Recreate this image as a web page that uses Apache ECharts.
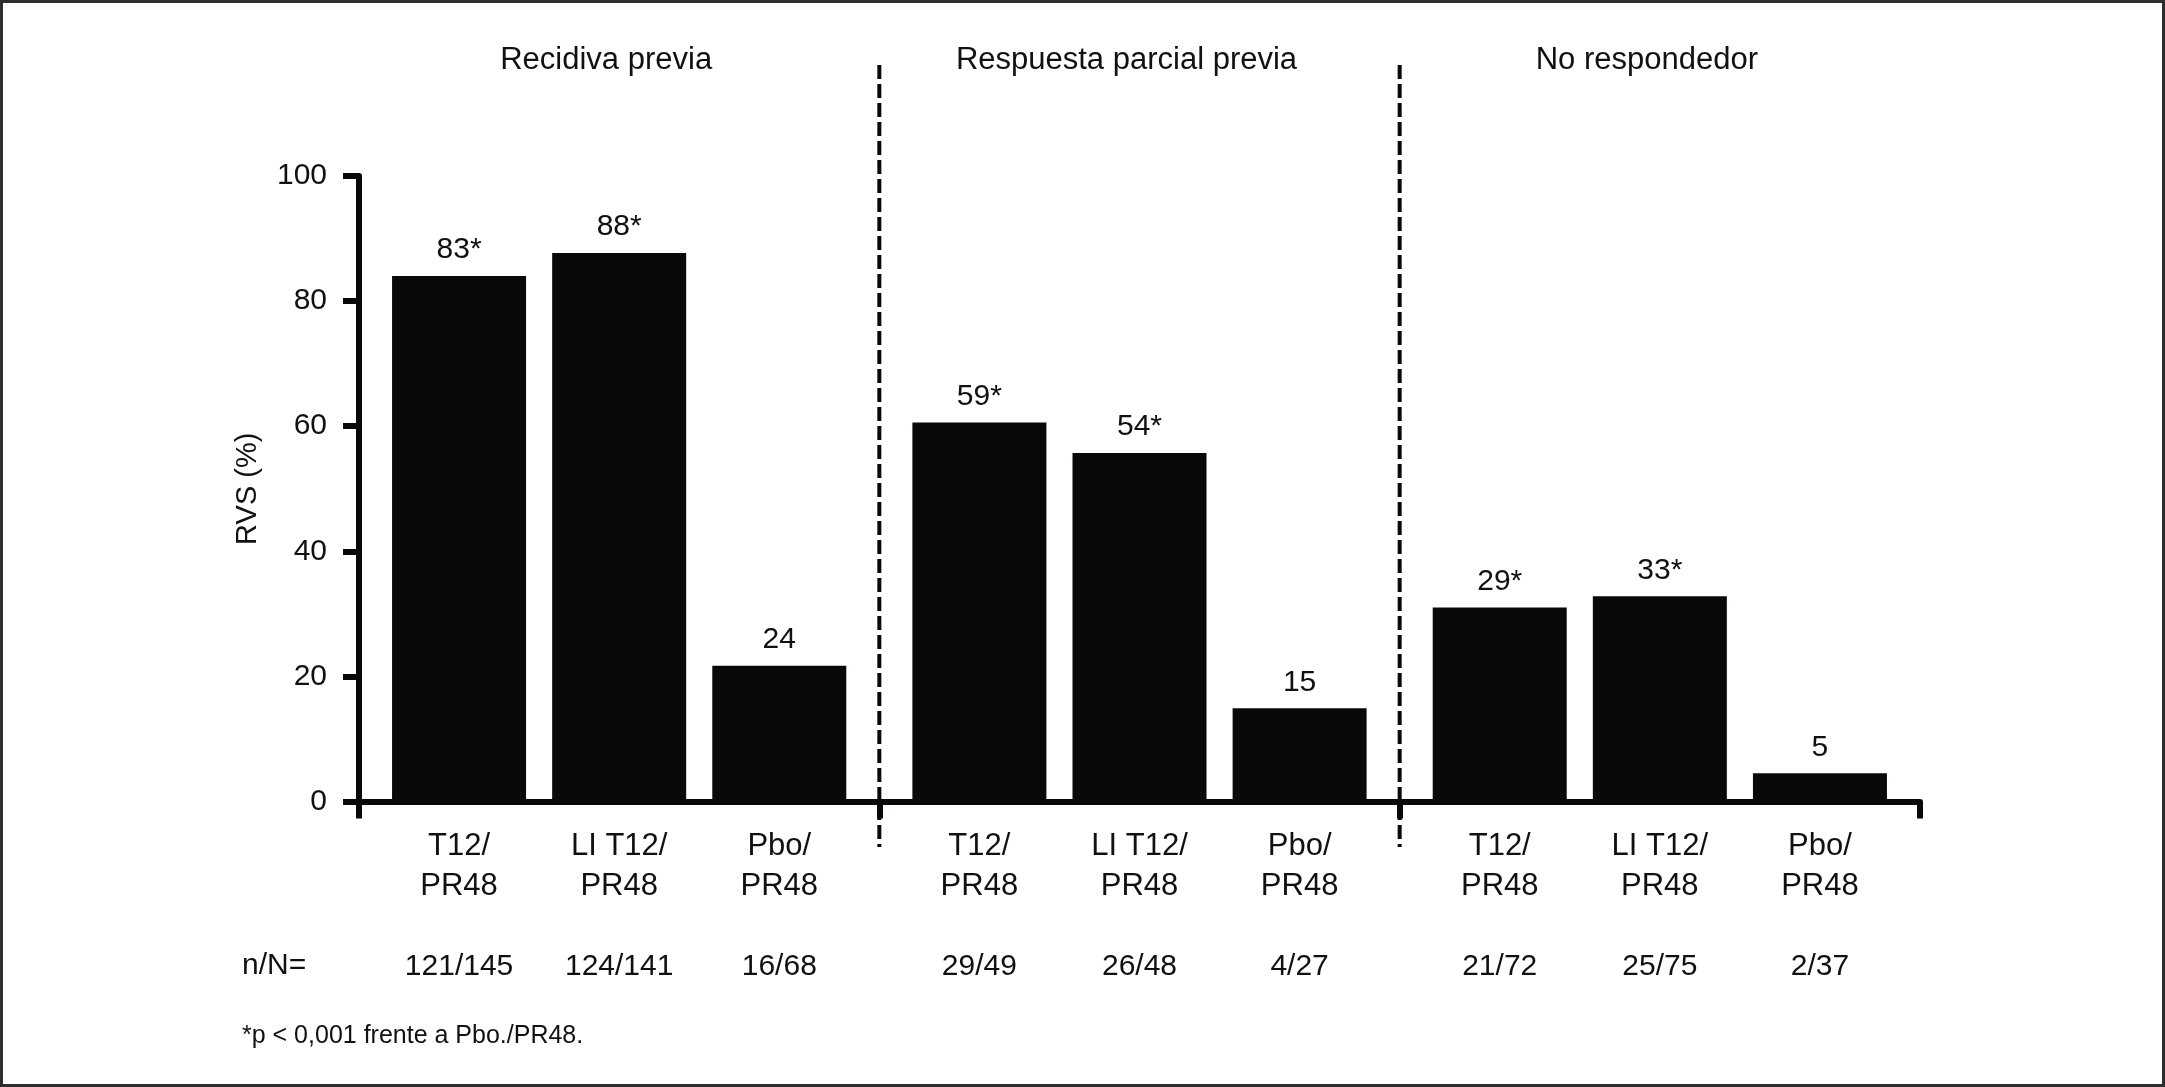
<!DOCTYPE html>
<html>
<head>
<meta charset="utf-8">
<script src="https://cdn.jsdelivr.net/npm/echarts@6/dist/echarts.min.js"></script>
<style>
html,body{margin:0;padding:0;background:#fff;}
#c{width:2165px;height:1087px;}
</style>
</head>
<body>
<div id="c"></div>
<script>
// ---- data ----
const groups = ['Recidiva previa', 'Respuesta parcial previa', 'No respondedor'];
const categories = ['T12/\nPR48', 'LI T12/\nPR48', 'Pbo/\nPR48'];
const rvsRecidiva = [84.0, 87.7, 21.7];
const rvsParcial = [60.6, 55.7, 14.9];
const rvsNoResp = [31.0, 32.8, 4.5];
const labelsRecidiva = ['83*', '88*', '24'];
const labelsParcial = ['59*', '54*', '15'];
const labelsNoResp = ['29*', '33*', '5'];
const nNRecidiva = ['121/145', '124/141', '16/68'];
const nNParcial = ['29/49', '26/48', '4/27'];
const nNNoResp = ['21/72', '25/75', '2/37'];
const yMin = 0, yMax = 100, yInterval = 20;
const yName = 'RVS (%)';
const nNTitle = 'n/N=';
const footnote = '*p < 0,001 frente a Pbo./PR48.';

const seriesValues = [rvsRecidiva, rvsParcial, rvsNoResp];
const seriesLabels = [labelsRecidiva, labelsParcial, labelsNoResp];
const seriesNN = [nNRecidiva, nNParcial, nNNoResp];

// ---- layout ----
const FONT = "'Liberation Sans Narrow','Arial Narrow','Liberation Sans',Arial,sans-serif";
const INK = '#0b080a';
const TXT = '#111';
const L = 359, W = 1561, T = 176, H = 625.5;
const GW = W / 3, PAD = 20;

const chart = echarts.init(document.getElementById('c'), null, {renderer: 'canvas'});

const grids = [{left: L, top: T, width: W, height: H}];
for (let i = 0; i < 3; i++) grids.push({left: L + i * GW + PAD, top: T, width: GW - 2 * PAD, height: H});

const xAxes = [
  {gridIndex: 0, type: 'category', data: groups, position: 'bottom',
   axisLine: {show: true, lineStyle: {color: INK, width: 6}},
   axisTick: {show: true, length: 17, lineStyle: {color: INK, width: 6}},
   axisLabel: {show: false}, z: 5},
  {gridIndex: 0, type: 'category', data: groups, position: 'top',
   axisLine: {show: false}, axisTick: {show: false},
   axisLabel: {show: true, margin: 96, fontFamily: FONT, fontSize: 31, lineHeight: 40, color: TXT, padding: [0, 26, 0, 0]}}
];
for (let i = 0; i < 3; i++) {
  xAxes.push({gridIndex: i + 1, type: 'category', data: categories, position: 'bottom',
    axisLine: {show: false}, axisTick: {show: false},
    axisLabel: {show: true, margin: 25, fontFamily: FONT, fontSize: 31, lineHeight: 40, color: TXT}});
}
for (let i = 0; i < 3; i++) {
  xAxes.push({gridIndex: i + 1, type: 'category', data: seriesNN[i], position: 'bottom', offset: 120,
    axisLine: {show: false}, axisTick: {show: false},
    axisLabel: {show: true, margin: 25, fontFamily: FONT, fontSize: 30, lineHeight: 40, color: TXT}});
}

const yAxes = [
  {gridIndex: 0, type: 'value', min: yMin, max: yMax, interval: yInterval,
   name: yName, nameLocation: 'middle', nameRotate: 90, nameGap: 97,
   nameTextStyle: {fontFamily: FONT, fontSize: 29, color: TXT},
   axisLine: {show: true, lineStyle: {color: INK, width: 6}},
   axisTick: {show: true, inside: false, length: 16, lineStyle: {color: INK, width: 6}},
   axisLabel: {margin: 32, fontFamily: FONT, fontSize: 30, color: TXT},
   splitLine: {show: false}, z: 5}
];
for (let i = 0; i < 3; i++) yAxes.push({gridIndex: i + 1, type: 'value', min: yMin, max: yMax, interval: yInterval, show: false});

const series = [];
for (let i = 0; i < 3; i++) {
  const labs = seriesLabels[i];
  series.push({type: 'bar', xAxisIndex: i + 2, yAxisIndex: i + 1, data: seriesValues[i],
    barWidth: 134, itemStyle: {color: INK},
    label: {show: true, position: 'top', distance: 6, fontFamily: FONT, fontSize: 30, lineHeight: 40, color: TXT,
      formatter: p => labs[p.dataIndex]}});
}

chart.setOption({
  animation: false,
  backgroundColor: '#fff',
  title: {text: footnote, left: 242, top: 1024, padding: 0, textStyle: {fontFamily: FONT, fontSize: 25, fontWeight: 'normal', color: TXT}},
  grid: grids,
  xAxis: xAxes,
  yAxis: yAxes,
  series: series
});

// separators derived from the group axis
const c0 = chart.convertToPixel({xAxisIndex: 0}, groups[0]);
const c1 = chart.convertToPixel({xAxisIndex: 0}, groups[1]);
const c2 = chart.convertToPixel({xAxisIndex: 0}, groups[2]);
const b1 = (c0 + c1) / 2, b2 = (c1 + c2) / 2;
const nNy = chart.convertToPixel({yAxisIndex: 0}, 0) + 164;

chart.setOption({
  graphic: [
    {type: 'rect', id: 'border', shape: {x: 1.5, y: 1.5, width: 2162, height: 1084}, style: {fill: null, stroke: '#2e2e2e', lineWidth: 3}, silent: true},
    {type: 'line', id: 'sep1', shape: {x1: b1, y1: 65, x2: b1, y2: 847}, style: {stroke: INK, lineWidth: 4, lineDash: [14, 5]}, z: 10},
    {type: 'line', id: 'sep2', shape: {x1: b2, y1: 65, x2: b2, y2: 847}, style: {stroke: INK, lineWidth: 4, lineDash: [14, 5]}, z: 10},
    {type: 'text', id: 'nn', left: 242, top: nNy - 20, style: {text: nNTitle, font: '30px ' + FONT, fill: TXT, textVerticalAlign: 'top', lineHeight: 40}}
  ]
});
</script>
</body>
</html>
